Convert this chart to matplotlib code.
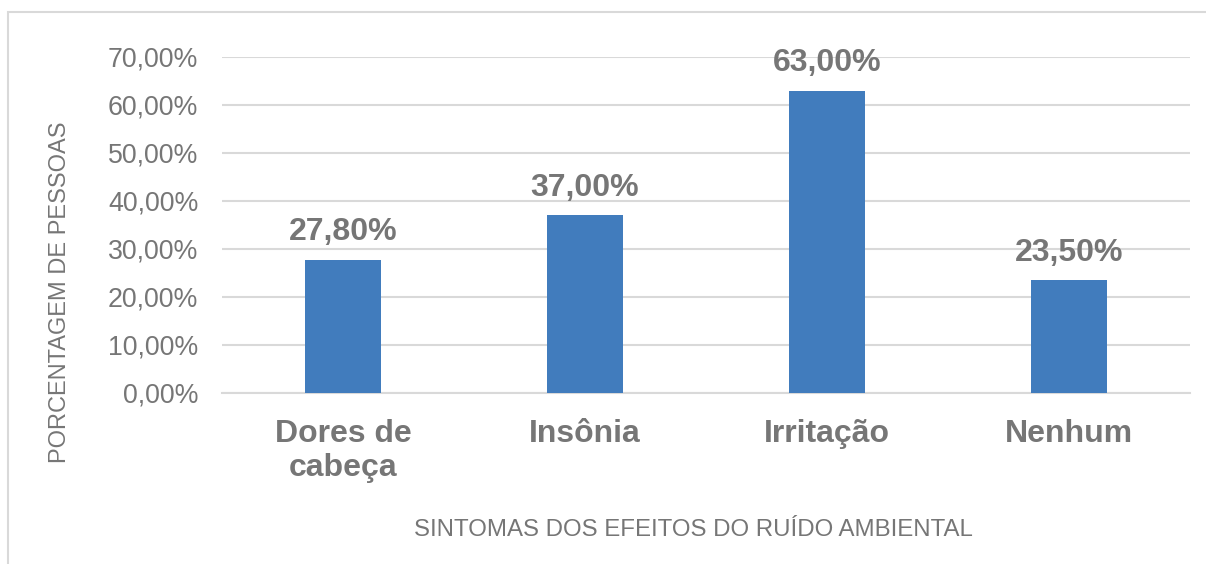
import matplotlib.pyplot as plt
import matplotlib.patches as patches
import numpy as np

plt.rcParams['font.family'] = ['Liberation Sans', 'DejaVu Sans']

categorias = ["Dores de\ncabeça", "Insônia", "Irritação", "Nenhum"]
valores = [27.80, 37.00, 63.00, 23.50]
yticks = [0, 10, 20, 30, 40, 50, 60, 70]

cinza = '#767676'
azul = '#417CBD'

fig = plt.figure(figsize=(12.06, 5.64), dpi=100)
ax = fig.add_axes([222/1206, 1 - 393/564, 968/1206, 336/564])

x = np.arange(len(categorias))
ax.bar(x, valores, width=0.314, color=azul, zorder=3)
for xi, v in zip(x, valores):
    ax.annotate(f"{v:.2f}%".replace('.', ','), (xi, v), xytext=(0, 9),
                textcoords='offset points', ha='center', va='bottom',
                fontsize=23, fontweight='bold', color=cinza)

ax.set_xlim(-0.5, len(categorias) - 0.5)
ax.set_ylim(0, 70)
ax.set_yticks(yticks)
ax.set_yticklabels([f"{t:.2f}%".replace('.', ',') for t in yticks], fontsize=19.3, color=cinza)
ax.set_xticks(x)
ax.set_xticklabels(categorias, fontsize=23, fontweight='bold', color=cinza, linespacing=1.15)
ax.tick_params(axis='both', length=0)
ax.tick_params(axis='y', pad=17)
ax.tick_params(axis='x', pad=19)
ax.grid(axis='y', color='#D9D9D9', linewidth=1.5, zorder=0)
for s in ['top', 'right', 'left']:
    ax.spines[s].set_visible(False)
ax.spines['bottom'].set_color('#D9D9D9')
ax.spines['bottom'].set_linewidth(1.5)

fig.text(693/1206, 1 - 530/564, "SINTOMAS DOS EFEITOS DO RUÍDO AMBIENTAL",
         ha='center', va='center', fontsize=17.3, color=cinza)
fig.text(60/1206, 1 - 292/564, "PORCENTAGEM DE PESSOAS", rotation=90,
         ha='center', va='center', fontsize=17, color=cinza)

# moldura do gráfico
fig.patches.append(patches.Rectangle((8/1206, -0.05), 1.1, 1 - 12/564 + 0.05,
                                     transform=fig.transFigure, fill=False,
                                     edgecolor='#D9D9D9', linewidth=1.5))

fig.savefig('out.png', dpi=100)
